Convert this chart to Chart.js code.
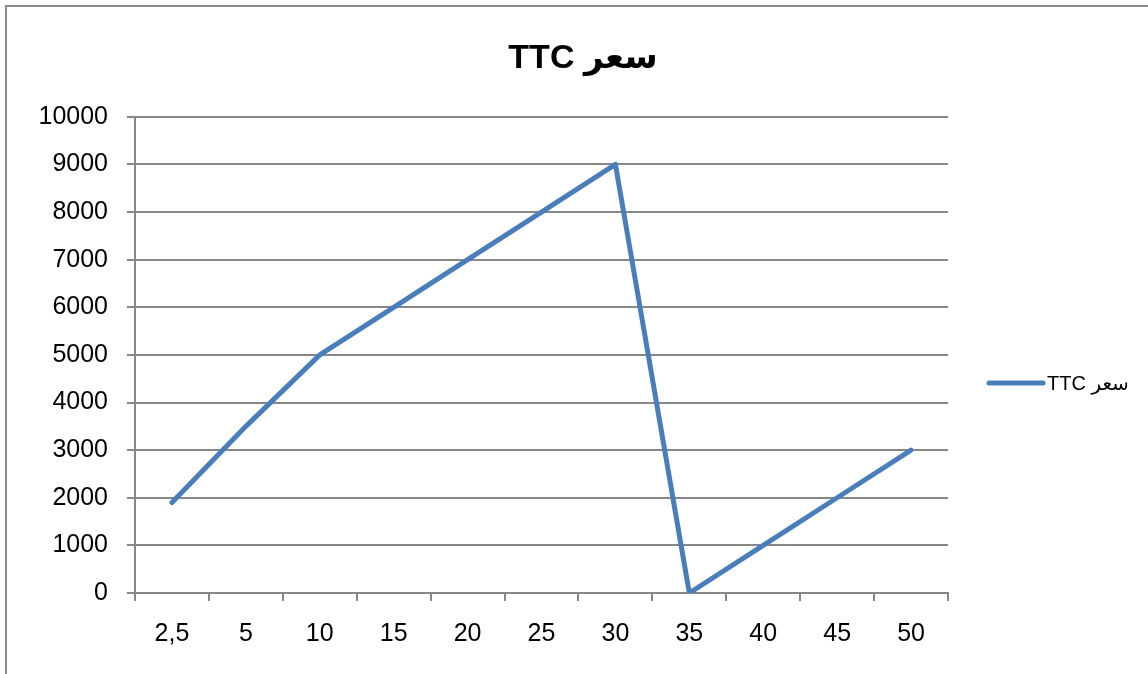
<!DOCTYPE html>
<html>
<head>
<meta charset="utf-8">
<script src="https://cdn.jsdelivr.net/npm/chart.js@4.4.1/dist/chart.umd.min.js"></script>
<style>
  html, body { margin: 0; padding: 0; background: #ffffff; }
  #wrap { width: 1148px; height: 674px; position: relative; }
  #chart { direction: rtl; }
</style>
</head>
<body>
<div id="wrap"><canvas id="chart" width="1148" height="674"></canvas></div>
<script>
// Price categories and series values
const categories = ['2,5', '5', '10', '15', '20', '25', '30', '35', '40', '45', '50'];
const seriesName = 'سعر TTC';
const priceValues = [1900, 3500, 5000, 6000, 7000, 8000, 9000, 0, 1000, 2000, 3000];
const yTicks = [0, 1000, 2000, 3000, 4000, 5000, 6000, 7000, 8000, 9000, 10000];

const LINE_BLUE = '#4A7EBB';
const GRID_GRAY = '#878787';
const FONT = '"Liberation Sans", Arial, "DejaVu Sans", sans-serif';

// Outer frame of the chart area
const framePlugin = {
  id: 'frame',
  beforeDraw(chart) {
    const ctx = chart.ctx;
    ctx.save();
    ctx.fillStyle = '#ffffff';
    ctx.fillRect(0, 0, chart.width, chart.height);
    ctx.strokeStyle = '#8c8c8c';
    ctx.lineWidth = 2;
    ctx.strokeRect(6, 6, chart.width + 20, chart.height + 20);
    ctx.restore();
  }
};

// Legend drawn to the right of the plot: line sample + series name
const sideLegend = {
  id: 'sideLegend',
  afterDraw(chart) {
    const ctx = chart.ctx;
    const area = chart.chartArea;
    const ds = chart.data.datasets[0];
    const y = area.bottom - 210;
    const x0 = area.right + 41;
    ctx.save();
    ctx.strokeStyle = ds.borderColor;
    ctx.lineWidth = 5;
    ctx.lineCap = 'round';
    ctx.beginPath();
    ctx.moveTo(x0, y);
    ctx.lineTo(x0 + 54, y);
    ctx.stroke();
    ctx.fillStyle = '#000000';
    ctx.font = '20px ' + FONT;
    ctx.textAlign = 'left';
    ctx.textBaseline = 'middle';
    ctx.fillText(ds.label, x0 + 58, y + 1);
    ctx.restore();
  }
};

new Chart(document.getElementById('chart'), {
  type: 'line',
  data: {
    labels: categories,
    datasets: [{
      label: seriesName,
      data: priceValues,
      borderColor: LINE_BLUE,
      backgroundColor: LINE_BLUE,
      borderWidth: 5,
      borderCapStyle: 'round',
      borderJoinStyle: 'round',
      pointRadius: 0,
      pointHoverRadius: 0,
      tension: 0,
      fill: false
    }]
  },
  options: {
    responsive: false,
    animation: false,
    events: [],
    layout: { padding: { left: 18, right: 0, top: 0, bottom: 0 } },
    plugins: {
      legend: { display: false },
      tooltip: { enabled: false },
      title: {
        display: true,
        text: seriesName,
        color: '#000000',
        font: { family: FONT, size: 34, weight: 'bold', lineHeight: 1.2 },
        padding: { top: 38, bottom: 38 }
      }
    },
    scales: {
      x: {
        offset: true,
        grid: {
          offset: true,
          drawOnChartArea: false,
          drawTicks: true,
          tickLength: 8,
          color: GRID_GRAY,
          lineWidth: 2
        },
        border: { display: true, color: GRID_GRAY, width: 2 },
        ticks: {
          color: '#000000',
          font: { family: FONT, size: 25 },
          padding: 18,
          maxRotation: 0,
          autoSkip: false
        },
        afterFit(scale) { scale.height = 81; }
      },
      y: {
        min: 0,
        max: 10000,
        afterBuildTicks(scale) { scale.ticks = yTicks.map(v => ({ value: v })); },
        grid: {
          color: GRID_GRAY,
          lineWidth: 2,
          drawTicks: true,
          tickLength: 8
        },
        border: { display: true, color: GRID_GRAY, width: 2 },
        ticks: {
          color: '#000000',
          font: { family: FONT, size: 25 },
          padding: 19,
          callback: (value) => String(value)
        },
        afterFit(scale) { scale.width = 117; }
      },
      legendSpace: {
        type: 'linear',
        position: 'right',
        display: true,
        grid: { display: false },
        border: { display: false },
        ticks: { display: false },
        afterFit(scale) { scale.width = 200; }
      }
    }
  },
  plugins: [framePlugin, sideLegend]
});
</script>
</body>
</html>
